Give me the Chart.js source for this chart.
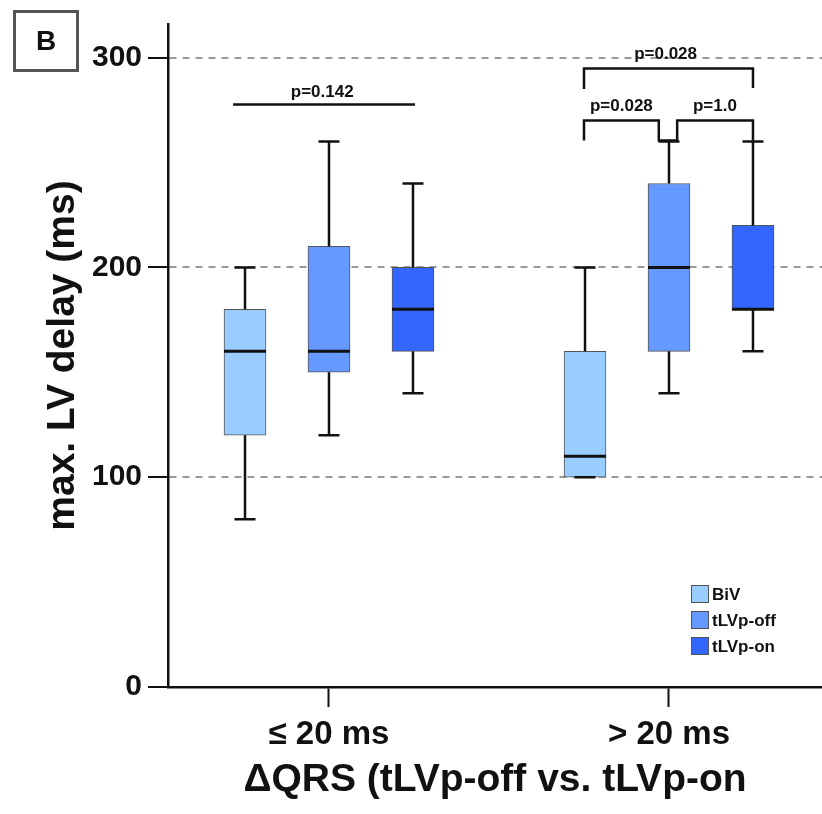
<!DOCTYPE html>
<html>
<head>
<meta charset="utf-8">
<script src="https://cdn.jsdelivr.net/npm/chart.js@4.4.0/dist/chart.umd.min.js"></script>
<style>
  html, body { margin: 0; padding: 0; background: #fff; overflow: hidden; }
  #wrap { position: relative; width: 822px; height: 814px; }
  #panel {
    position: absolute; left: 13px; top: 10px; width: 60px; height: 56px;
    border: 3px solid #555; color: #111;
    font: bold 28px "Liberation Sans", Arial, sans-serif;
    display: flex; align-items: center; justify-content: center;
  }
</style>
</head>
<body>
<div id="wrap">
  <canvas id="chart" width="822" height="814"></canvas>
  <div id="panel">B</div>
</div>
<script>
const groups = ["≤ 20 ms", "> 20 ms"];
const seriesNames = ["BiV", "tLVp-off", "tLVp-on"];
const seriesColors = ["#99CCFF", "#6699FF", "#3366FF"];

// one entry per series, values for [≤ 20 ms, > 20 ms]
const mins    = [[80, 100], [120, 140], [140, 160]];
const q1s     = [[120, 100], [150, 160], [160, 180]];
const medians = [[160, 110], [160, 200], [180, 180]];
const q3s     = [[180, 160], [210, 240], [200, 220]];
const maxs    = [[200, 200], [260, 260], [240, 260]];

const yTicks = [0, 100, 200, 300];
const pLabels = ["p=0.142", "p=0.028", "p=0.028", "p=1.0"];

const FONT = '"Liberation Sans", Arial, Helvetica, sans-serif';
const SHIFT = 0.247; // distance between boxes inside a group, in x units

// significance brackets: polylines in data units, label position in data units
const brackets = [
  { text: pLabels[0], tx: 0.98, ty: 283.5, path: [[0.718, 277.6], [1.253, 277.6]] },
  { text: pLabels[1], tx: 1.99, ty: 301.4, path: [[1.75, 285], [1.75, 294.8], [2.247, 294.8], [2.247, 285.5]] },
  { text: pLabels[2], tx: 1.86, ty: 277, path: [[1.75, 260.5], [1.75, 270], [1.97, 270], [1.97, 260.5], [2.024, 260.5], [2.024, 270], [2.247, 270], [2.247, 260.5]] },
  { text: pLabels[3], tx: 2.135, ty: 277, path: [] },
];

const boxPlugin = {
  id: "boxWhiskers",
  afterDatasetsDraw(chart) {
    const { ctx, scales: { y } } = chart;
    ctx.save();
    ctx.strokeStyle = "#111";
    chart.data.datasets.forEach((ds, s) => {
      const meta = chart.getDatasetMeta(s);
      meta.data.forEach((bar, i) => {
        const x = bar.x;
        const half = bar.width / 2;
        const cap = 10.5;
        const pMin = y.getPixelForValue(mins[s][i]);
        const pMax = y.getPixelForValue(maxs[s][i]);
        const pQ1 = y.getPixelForValue(q1s[s][i]);
        const pQ3 = y.getPixelForValue(q3s[s][i]);
        const pMed = y.getPixelForValue(medians[s][i]);
        ctx.lineWidth = 2.5;
        ctx.beginPath();
        ctx.moveTo(x, pQ3); ctx.lineTo(x, pMax);
        ctx.moveTo(x - cap, pMax); ctx.lineTo(x + cap, pMax);
        ctx.moveTo(x, pQ1); ctx.lineTo(x, pMin);
        ctx.moveTo(x - cap, pMin); ctx.lineTo(x + cap, pMin);
        ctx.stroke();
        ctx.lineWidth = 3;
        ctx.beginPath();
        ctx.moveTo(x - half, pMed); ctx.lineTo(x + half, pMed);
        ctx.stroke();
      });
    });
    ctx.restore();
  }
};

const annotationPlugin = {
  id: "pBrackets",
  afterDraw(chart) {
    const { ctx, scales: { x, y } } = chart;
    ctx.save();
    ctx.strokeStyle = "#111";
    ctx.fillStyle = "#111";
    ctx.lineWidth = 2.5;
    ctx.font = "bold 17px " + FONT;
    ctx.textAlign = "center";
    ctx.textBaseline = "middle";
    brackets.forEach(b => {
      if (b.path.length) {
        ctx.beginPath();
        b.path.forEach(([vx, vy], k) => {
          const px = x.getPixelForValue(vx), py = y.getPixelForValue(vy);
          k ? ctx.lineTo(px, py) : ctx.moveTo(px, py);
        });
        ctx.stroke();
      }
      ctx.fillText(b.text, x.getPixelForValue(b.tx), y.getPixelForValue(b.ty));
    });

    // legend box, bottom right of the plot
    const lx = chart.chartArea.right - 131;
    const ly = 585;
    ctx.textAlign = "left";
    seriesNames.forEach((name, s) => {
      const top = ly + s * 26;
      ctx.fillStyle = seriesColors[s];
      ctx.fillRect(lx, top, 18, 18);
      ctx.lineWidth = 1;
      ctx.strokeStyle = "#555";
      ctx.strokeRect(lx + 0.5, top + 0.5, 17, 17);
      ctx.fillStyle = "#111";
      ctx.fillText(name, lx + 21, top + 10);
    });
    ctx.restore();
  }
};

const datasets = seriesNames.map((name, s) => ({
  label: name,
  data: groups.map((g, i) => ({ x: i + 1 + (s - 1) * SHIFT, y: [q1s[s][i], q3s[s][i]] })),
  backgroundColor: seriesColors[s],
  borderColor: "#555",
  borderWidth: 1,
  borderSkipped: false,
  barThickness: 42,
  grouped: false,
}));

new Chart(document.getElementById("chart"), {
  type: "bar",
  data: { datasets },
  options: {
    responsive: false,
    animation: false,
    layout: { padding: { top: 24, right: 0, left: 0, bottom: 0 } },
    plugins: { legend: { display: false }, tooltip: { enabled: false } },
    scales: {
      x: {
        type: "linear",
        min: 0.5265,
        max: 2.45,
        offset: false,
        afterBuildTicks: scale => { scale.ticks = groups.map((g, i) => ({ value: i + 1 })); },
        afterFit: scale => { scale.height = 127; },
        ticks: {
          callback: v => groups[v - 1],
          color: "#111",
          font: { family: FONT, size: 33, weight: "bold" },
          padding: 8,
          maxRotation: 0,
          autoSkip: false,
        },
        grid: { offset: false, drawOnChartArea: false, drawTicks: true, tickLength: 20, tickColor: "#111", tickWidth: 2 },
        border: { display: true, color: "#111", width: 2.5 },
        title: {
          display: true,
          text: "ΔQRS (tLVp-off vs. tLVp-on",
          color: "#111",
          font: { family: FONT, size: 39, weight: "bold" },
          padding: { top: 0, bottom: 10 },
        },
      },
      y: {
        min: 0,
        max: 316,
        afterBuildTicks: scale => { scale.ticks = yTicks.map(v => ({ value: v })); },
        afterFit: scale => { scale.width = 168; },
        ticks: {
          color: "#111",
          font: { family: FONT, size: 30, weight: "bold" },
          padding: 6,
        },
        grid: {
          color: c => (c.tick && c.tick.value === 0 ? "rgba(0,0,0,0)" : "#9a9a9a"),
          lineWidth: 2,
          tickLength: 20,
          tickColor: "#111",
          tickWidth: 2,
          tickBorderDash: [],
        },
        border: { display: true, color: "#111", width: 2.5, dash: [7, 6] },
        title: {
          display: true,
          text: "max. LV delay (ms)",
          color: "#111",
          font: { family: FONT, size: 39, weight: "bold" },
          padding: { top: 40, bottom: 0 },
        },
      },
    },
  },
  plugins: [boxPlugin, annotationPlugin],
});
</script>
</body>
</html>
